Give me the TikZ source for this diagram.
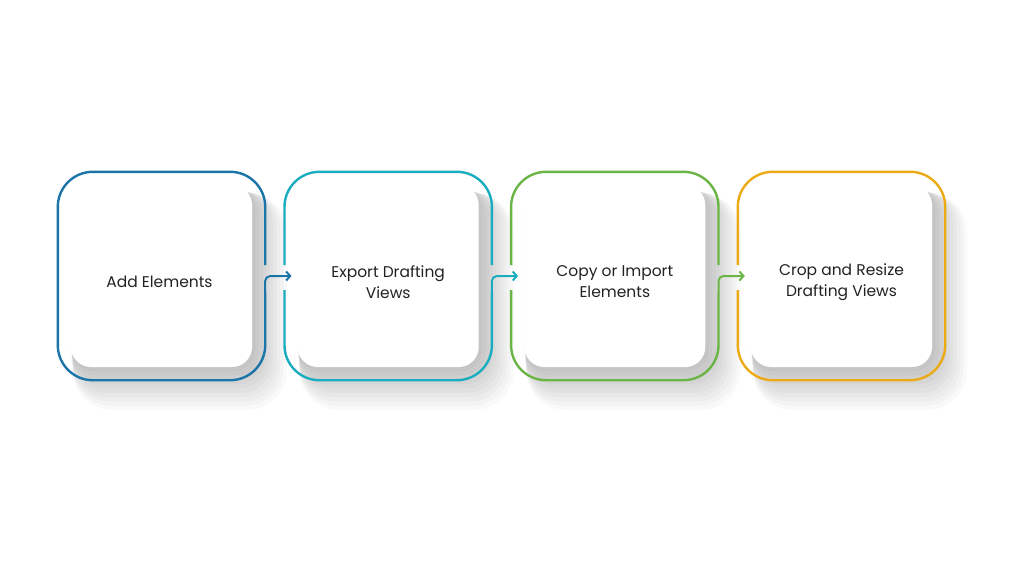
\documentclass[tikz,border=0pt]{standalone}
\usepackage{fontspec}
\setmainfont{Poppins}
\usetikzlibrary{arrows.meta, calc, positioning}
\definecolor{stepblue}{HTML}{1B75A9}
\definecolor{stepteal}{HTML}{1AADBF}
\definecolor{stepgreen}{HTML}{6BB547}
\definecolor{stepyellow}{HTML}{EBAA16}
\definecolor{steptext}{HTML}{222222}
\tikzset{
    outerbox/.style={minimum width=207pt, minimum height=208pt, inner sep=0pt},
    card/.style={fill=white, rounded corners=20pt, minimum width=181pt, minimum height=182pt, inner sep=0pt},
    steplabel/.style={text=steptext, font=\fontsize{15.5}{21}\selectfont, align=center, inner sep=0pt},
    ring/.style={line width=2.4pt, rounded corners=35pt},
    link/.style={line width=2pt, rounded corners=5pt, -{Straight Barb[length=4pt, width=9pt]}}
}

\begin{document}
\begin{tikzpicture}[x=1pt, y=-1pt]
    \fill[white] (0, 0) rectangle (1024, 576);
    \useasboundingbox (0, 0) rectangle (1024, 576);

    \node[outerbox] (o1) at (161.5, 276) {};
    \node[outerbox] (o2) at (388.2, 276) {};
    \node[outerbox] (o3) at (614.8, 276) {};
    \node[outerbox] (o4) at (841.5, 276) {};

    % soft shadow under the cards
    \foreach \k in {1,...,10} {
        \pgfmathsetmacro\rr{20+2*\k}
        \foreach \b in {o1, o2, o3, o4}
            \fill[black, opacity=0.025, rounded corners=\rr pt]
            ($(\b.center)+({-90.5+0.2*\k}, {-88+0.5*\k})$) rectangle
            ($(\b.center)+({90.5+3.5*\k}, {91+4.3*\k})$);
    }

    \node[card] (i1) at (o1) {};
    \node[card] (i2) at (o2) {};
    \node[card] (i3) at (o3) {};
    \node[card] (i4) at (o4) {};

    \draw[ring, stepblue]
    ([yshift=11pt]o1.east) -- (o1.north east) -- (o1.north west)
    -- (o1.south west) -- (o1.south east) -- ([yshift=-16pt]o1.east);
    \draw[ring, stepteal]
    ([yshift=11pt]o2.west) -- (o2.north west) -- (o2.north east) -- ([yshift=11pt]o2.east)
    ([yshift=-14pt]o2.west) -- (o2.south west) -- (o2.south east) -- ([yshift=-16pt]o2.east);
    \draw[ring, stepgreen]
    ([yshift=11pt]o3.west) -- (o3.north west) -- (o3.north east) -- ([yshift=11pt]o3.east)
    ([yshift=-14pt]o3.west) -- (o3.south west) -- (o3.south east) -- ([yshift=-16pt]o3.east);
    \draw[ring, stepyellow]
    ([yshift=-14pt]o4.west) -- (o4.south west) -- (o4.south east)
    -- (o4.north east) -- (o4.north west) -- ([yshift=11pt]o4.west);

    \draw[link, stepblue] ([yshift=-16pt]o1.east) |- ([xshift=7pt]o2.west);
    \draw[link, stepteal] ([yshift=-16pt]o2.east) |- ([xshift=7pt]o3.west);
    \draw[link, stepgreen] ([yshift=-16pt]o3.east) |- ([xshift=7pt]o4.west);

    \node[steplabel] (t1) at ([xshift=-2pt, yshift=-6pt]i1.center) {Add Elements};
    \node[steplabel] (t2) at ([yshift=-6pt]i2.center) {Export Drafting\\Views};
    \node[steplabel] (t3) at ([yshift=-6pt]i3.center) {Copy or Import\\Elements};
    \node[steplabel] (t4) at ([yshift=-6pt]i4.center) {Crop and Resize\\Drafting Views};
\end{tikzpicture}
\end{document}
